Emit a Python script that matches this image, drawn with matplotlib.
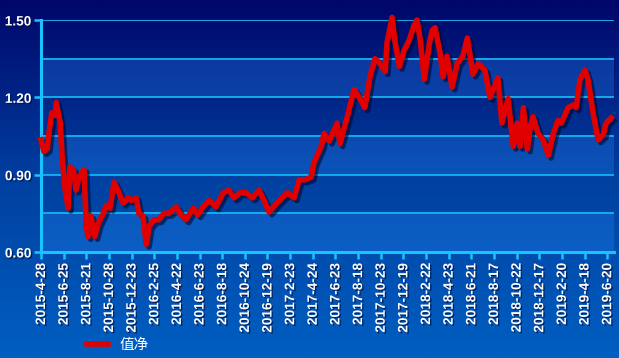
import matplotlib.pyplot as plt
import matplotlib.patheffects as pe
import numpy as np
from matplotlib.colors import LinearSegmentedColormap

plt.rcParams['font.family'] = ['Liberation Sans', 'Noto Sans CJK SC', 'DejaVu Sans']

# trading-day index of each reading and net value
day = [0, 5, 11, 14, 19, 25, 27, 34, 37, 42, 48, 51, 57, 62, 67, 76, 80, 83, 88, 95,
       101, 110, 115, 122, 129, 136, 145, 154, 159, 168, 173, 180, 186, 191, 200, 208,
       217, 226, 239, 247, 256, 269, 277, 288, 297, 309, 322, 332, 341, 352, 362, 373,
       385, 394, 403, 417, 435, 447, 456, 466, 477, 482, 495, 500, 509, 518, 523, 528,
       541, 553, 562, 572, 581, 590, 599, 608, 611, 620, 625, 633, 641, 650, 659, 664,
       670, 677, 686, 691, 696, 705, 710, 717, 726, 735, 745, 753, 763, 772, 784, 793,
       807, 814, 825, 834, 841, 846, 852, 859, 864, 869, 878, 887, 896, 905, 913, 919,
       931, 940, 945, 952, 961, 966, 975, 984, 993, 998, 1007]
nav = [1.035, 0.99, 1.00, 1.06, 1.14, 1.13, 1.18, 1.10, 0.98, 0.85, 0.77, 0.93, 0.92, 0.84,
       0.89, 0.92, 0.70, 0.66, 0.74, 0.66, 0.71, 0.75, 0.78, 0.77, 0.87, 0.84, 0.79, 0.81,
       0.80, 0.81, 0.75, 0.74, 0.63, 0.70, 0.725, 0.725, 0.75, 0.75, 0.775, 0.745, 0.725,
       0.77, 0.745, 0.78, 0.80, 0.775, 0.83, 0.84, 0.81, 0.83, 0.83, 0.81, 0.84, 0.80,
       0.755, 0.79, 0.83, 0.81, 0.88, 0.88, 0.89, 0.945, 1.01, 1.06, 1.03, 1.075, 1.10,
       1.02, 1.125, 1.23, 1.20, 1.16, 1.28, 1.35, 1.33, 1.30, 1.41, 1.51, 1.42, 1.32,
       1.38, 1.42, 1.48, 1.50, 1.42, 1.27, 1.41, 1.46, 1.47, 1.37, 1.28, 1.36, 1.24,
       1.33, 1.36, 1.43, 1.29, 1.33, 1.305, 1.20, 1.275, 1.10, 1.195, 1.01, 1.10, 1.01,
       1.16, 1.00, 1.085, 1.125, 1.06, 1.035, 0.975, 1.06, 1.11, 1.10, 1.16, 1.17, 1.16,
       1.27, 1.305, 1.27, 1.14, 1.035, 1.055, 1.10, 1.12]

tick_labels = ['2015-4-28', '2015-6-25', '2015-8-21', '2015-10-28', '2015-12-23',
               '2016-2-25', '2016-4-22', '2016-6-23', '2016-8-18', '2016-10-24',
               '2016-12-19', '2017-2-23', '2017-4-24', '2017-6-23', '2017-8-18',
               '2017-10-23', '2017-12-19', '2018-2-22', '2018-4-23', '2018-6-21',
               '2018-8-17', '2018-10-22', '2018-12-17', '2019-2-20', '2019-4-18',
               '2019-6-20']
tick_days = [40 * i for i in range(len(tick_labels))]

fig = plt.figure(figsize=(6.19, 3.58), dpi=100)

# gradient background
bg = fig.add_axes([0, 0, 1, 1], zorder=0)
cmap = LinearSegmentedColormap.from_list('bg', ['#00066a', '#0040a0', '#005fc2'])
bg.imshow(np.linspace(0, 1, 256).reshape(-1, 1), cmap=cmap, aspect='auto',
          extent=[0, 1, 0, 1])
bg.axis('off')

ax = fig.add_axes([41 / 619, 1 - 252 / 358, 573 / 619, 232 / 358], zorder=1)
ax.patch.set_alpha(0)

grid_c = '#14b4f0'
for lo in [0.60, 0.90, 1.20]:
    ax.axhspan(lo, lo + 0.15, color='#2a8cff', alpha=0.28, lw=0, zorder=0)
for v in np.arange(0.75, 1.51, 0.15):
    ax.axhline(v, color=grid_c, lw=1.3, zorder=1)

ax.plot(day, nav, color='#e00000', lw=4.0, solid_joinstyle='round', zorder=3,
        clip_on=False, label='值净',
        path_effects=[pe.SimpleLineShadow(offset=(2, -2), shadow_color='#000830', alpha=0.6),
                      pe.Normal()])

ax.set_xlim(0, 1012)
ax.set_ylim(0.60, 1.50)
ax.set_yticks([0.60, 0.90, 1.20, 1.50])
ax.set_yticklabels(['0.60', '0.90', '1.20', '1.50'])
ax.set_xticks(tick_days)
ax.set_xticklabels(tick_labels, rotation=90)

for s in ['top', 'right']:
    ax.spines[s].set_visible(False)
for s in ['left', 'bottom']:
    ax.spines[s].set_color('#19c3ff')
    ax.spines[s].set_linewidth(2.2)
ax.tick_params(colors='#19c3ff', width=1.8, length=5, direction='out')
shadow = [pe.SimplePatchShadow(offset=(1, -1), shadow_rgbFace='#001040', alpha=0.7),
          pe.Normal()]
for lab in ax.get_xticklabels() + ax.get_yticklabels():
    lab.set_color('white')
    lab.set_fontweight('bold')
    lab.set_fontsize(9.8)
    lab.set_path_effects(shadow)
ax.tick_params(axis='x', pad=3)
ax.tick_params(axis='y', pad=2)

leg = ax.legend(loc='center', bbox_to_anchor=(118 / 619, 1 - 345 / 358),
                bbox_transform=fig.transFigure, frameon=False, handlelength=1.4,
                prop={'family': ['Noto Sans CJK SC'], 'size': 10.5})
for t in leg.get_texts():
    t.set_color('white')
for h in leg.get_lines():
    h.set_linewidth(4)
    h.set_path_effects([])

fig.savefig('out.png', dpi=100)
